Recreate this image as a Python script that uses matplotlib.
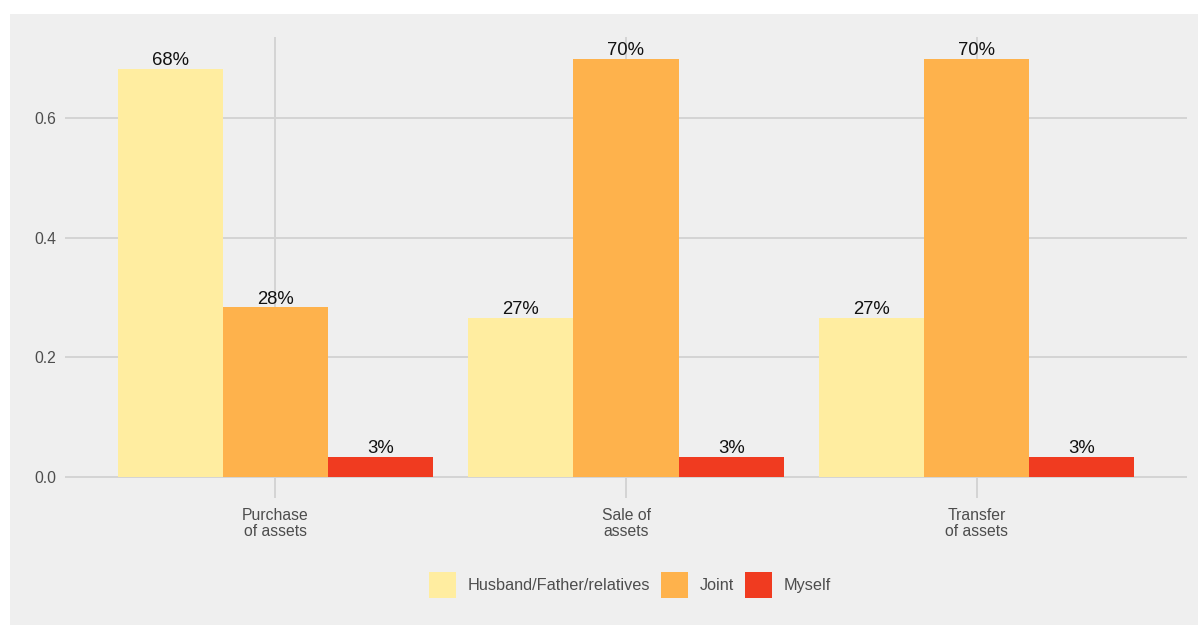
import matplotlib
matplotlib.use("Agg")
import matplotlib.pyplot as plt
from matplotlib.patches import Rectangle, Patch
import numpy as np

plt.rcParams['font.family'] = ['Liberation Sans', 'DejaVu Sans']

categories = ["Purchase\nof assets", "Sale of\nassets", "Transfer\nof assets"]
series_names = ["Husband/Father/relatives", "Joint", "Myself"]
husband_vals = [0.682, 0.266, 0.266]
joint_vals = [0.284, 0.699, 0.699]
myself_vals = [0.034, 0.034, 0.034]
series_values = [husband_vals, joint_vals, myself_vals]
series_colors = ["#FFEDA0", "#FEB24C", "#F03B20"]
y_ticks = [0.0, 0.2, 0.4, 0.6]
y_tick_labels = ["0.0", "0.2", "0.4", "0.6"]

W, H = 1198, 625
bg = "#efefef"
grid_col = "#d4d4d4"
text_col = "#4d4d4d"

fig = plt.figure(figsize=(W / 100, H / 100), dpi=100, facecolor="white")
# grey plot background, leaving a thin white margin at top and left
fig.patches.append(Rectangle((10 / W, 0), 1 - 10 / W, 1 - 14 / H,
                             transform=fig.transFigure, facecolor=bg,
                             edgecolor="none", zorder=-5))

ax = fig.add_axes([65 / W, 1 - 498 / H, 1122 / W, 461 / H])
ax.set_facecolor(bg)
for s in ax.spines.values():
    s.set_visible(False)

x = np.arange(1, len(categories) + 1)
n = len(series_names)
group_w = 0.9
bar_w = group_w / n

for i, (name, vals, col) in enumerate(zip(series_names, series_values, series_colors)):
    pos = x - group_w / 2 + bar_w * (i + 0.5)
    ax.bar(pos, vals, width=bar_w, color=col, edgecolor="none", zorder=3, label=name)
    for px, v in zip(pos, vals):
        ax.annotate(f"{round(v * 100):.0f}%", (px, v), xytext=(0, 2.5),
                    textcoords="offset points", ha="center", va="baseline",
                    fontsize=13.3, color="#111111", zorder=4)

ax.set_xlim(0.4, 3.6)
ax.set_ylim(-0.035, 0.735)
ax.set_xticks(x)
ax.set_xticklabels(categories, fontsize=11.3, color=text_col, linespacing=1.12)
ax.set_yticks(y_ticks)
ax.set_yticklabels(y_tick_labels, fontsize=11.3, color=text_col)
ax.tick_params(axis="both", length=0)
ax.tick_params(axis="x", pad=7)
ax.tick_params(axis="y", pad=6.5)
ax.grid(True, color=grid_col, linewidth=1.4, zorder=0)
ax.set_axisbelow(True)

handles = [Patch(facecolor=c, edgecolor="none") for c in series_colors]
fig.legend(handles, series_names, loc="center", bbox_to_anchor=(630 / W, 1 - 585 / H),
           ncol=3, frameon=False, fontsize=11.7, labelcolor=text_col,
           handlelength=1.65, handleheight=2.0, handletextpad=0.7,
           columnspacing=0.7, borderaxespad=0, borderpad=0)

fig.savefig("out.png", dpi=100, facecolor="white")
